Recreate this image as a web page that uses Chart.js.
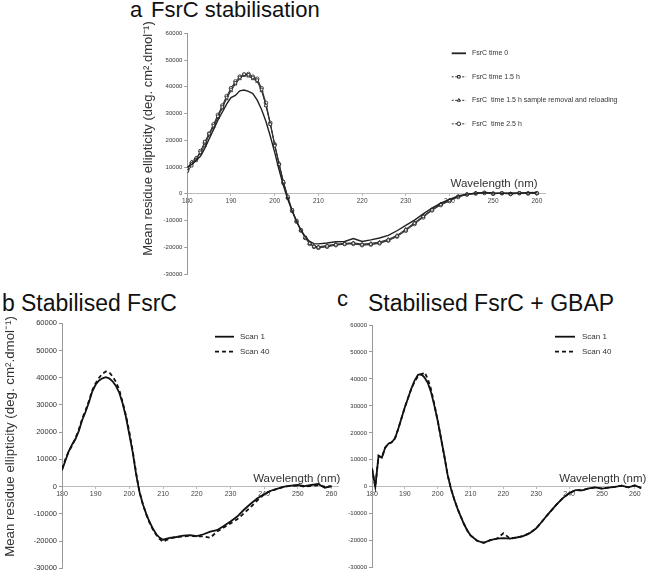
<!DOCTYPE html>
<html>
<head>
<meta charset="utf-8">
<script src="https://cdn.jsdelivr.net/npm/chart.js@4.4.1/dist/chart.umd.min.js"></script>
<style>
  body { margin: 0; background: #fff; width: 670px; height: 578px; position: relative; overflow: hidden; font-family: "Liberation Sans", Arial, sans-serif; }
  canvas { position: absolute; }
  .ttl { position: absolute; color: #111; white-space: nowrap; line-height: 1; }
</style>
</head>
<body>
<div class="ttl" style="left:130px;top:-1px;font-size:22px">a</div>
<div class="ttl" style="left:151px;top:-1px;font-size:22px">FsrC stabilisation</div>
<div class="ttl" style="left:2px;top:292px;font-size:23px">b</div>
<div class="ttl" style="left:21px;top:292px;font-size:23px">Stabilised FsrC</div>
<div class="ttl" style="left:337px;top:288px;font-size:22px">c</div>
<div class="ttl" style="left:368px;top:292px;font-size:23px">Stabilised FsrC + GBAP</div>

<canvas id="chartA" width="540" height="280" style="left:130px;top:0px"></canvas>
<canvas id="chartB" width="345" height="288" style="left:0px;top:290px"></canvas>
<canvas id="chartC" width="330" height="278" style="left:340px;top:300px"></canvas>

<script>
// wavelength (nm): 1 nm steps up to 210, 2 nm steps after
const wavelength = [180,181,182,183,184,185,186,187,188,189,190,191,192,193,194,195,196,197,198,199,200,
  201,202,203,204,205,206,207,208,209,210,212,214,216,218,220,222,224,226,228,230,232,234,236,238,240,
  242,244,246,248,250,252,254,256,258,260,262];

const yTicks = [-30000, -20000, -10000, 0, 10000, 20000, 30000, 40000, 50000, 60000];
const xTicks = [180, 190, 200, 210, 220, 230, 240, 250, 260];

// panel a
const fsrcTime0 = [10000,11000,12500,14000,17000,20500,24000,27500,30500,33500,36000,36800,38500,38800,38300,37500,
  35000,31500,27000,21500,15500,9000,3000,-2000,-6500,-10300,-13500,-16000,-17800,-18600,-18700,
  -18400,-17900,-17800,-16700,-17800,-17200,-16500,-15500,-13800,-11800,-9800,-7500,-5300,-3500,-2100,-800,-100,
  200,500,300,200,300,200,400,500];
const fsrcTime15 = [8500,10500,12500,15500,19500,22500,25500,29000,32500,36000,39000,41500,43500,44700,44500,43500,
  42500,39000,33000,26000,18000,11000,4500,-1000,-6000,-10000,-13500,-16300,-18500,-19700,-20000,
  -19500,-19000,-18700,-18500,-19000,-18800,-18300,-17300,-15800,-13500,-11000,-8500,-6000,-4000,-2500,-1000,-200,
  200,500,100,300,0,400,200,300];
const fsrcTime15Reload = [9500,12000,13500,15000,18000,22000,25000,28500,32000,35500,38500,41000,43000,44300,44000,43000,
  42000,38500,33000,26000,18500,11500,4500,-1500,-6500,-10500,-13800,-16500,-18500,-19500,-19800,
  -19300,-18800,-18500,-18300,-18800,-18500,-18000,-17000,-15500,-13200,-10800,-8300,-5800,-3800,-2300,-900,-100,
  300,400,200,200,100,300,300,200];
const fsrcTime25 = [9000,11500,13000,16000,19000,22500,26000,29500,33000,36500,39500,42000,43800,44500,44800,43800,
  43000,39500,34000,26500,18500,11000,4000,-1500,-6300,-10300,-13700,-16500,-18700,-19800,-20200,
  -19800,-19200,-18800,-18700,-19200,-19000,-18500,-17500,-16000,-13800,-11300,-8800,-6200,-4200,-2700,-1200,-300,
  100,300,0,200,-100,200,100,200];

// panel b
const stabScan1 = [6000,9500,13000,15500,17500,20500,24500,27500,31000,35000,37500,39000,39800,40200,39800,38700,
  37000,34500,30500,25500,19000,12500,4500,-2000,-6500,-10000,-13000,-15500,-17500,-18800,-19500,
  -18800,-18500,-18000,-17800,-18200,-17500,-16500,-16000,-14500,-12800,-11000,-8500,-6300,-4300,-2800,-1500,-700,
  0,400,600,200,600,1000,-400,200];
const stabScan40 = [6500,10000,13000,15000,17800,21000,25000,28000,31500,35500,38000,40000,41500,42300,42000,40500,
  38500,35500,31000,26000,20000,13000,5000,-2000,-6500,-10200,-13300,-15800,-17800,-19300,-20300,
  -19000,-18500,-18300,-18000,-18300,-18300,-18800,-16500,-15000,-13500,-12000,-9800,-7500,-5000,-2800,-1500,-800,
  0,300,400,0,300,500,0,100];

// panel c
const gbapScan1 = [6800,0,11500,10800,14500,16000,16500,18000,21500,25500,29500,33000,36500,39500,41500,41800,
  40500,38500,35000,30000,24500,18000,11500,4500,-500,-4500,-8000,-11000,-13800,-16200,-18000,
  -20000,-20800,-19800,-19200,-19000,-19200,-18800,-18300,-17200,-15400,-12500,-9600,-6800,-4300,-2400,-1200,-1300,
  -600,-200,-700,-300,0,400,-200,500,-500];
const gbapScan40 = [6800,0,11500,10800,14500,16000,16500,18000,21500,25500,29500,33000,36500,39000,41000,41500,
  42500,40000,36000,30500,24500,18000,11500,4500,-500,-4500,-8000,-11000,-13800,-16200,-18000,
  -20000,-20800,-19800,-19200,-17200,-19200,-18800,-18300,-17200,-15400,-12500,-9600,-6800,-4300,-2400,-1200,-1300,
  -600,-200,-700,-300,0,400,-200,500,-500];

const FONT = '"Liberation Sans", Arial, sans-serif';
const Y_TITLE = 'Mean residue ellipticity (deg. cm\u00B2.dmol\u207B\u00B9)';

function pts(values) {
  return values.map((v, i) => ({ x: wavelength[i], y: v }));
}

// legend, wavelength label and rotated y title, drawn on top of the chart
const panelText = {
  id: 'panelText',
  afterDraw(chart, args, opts) {
    const ctx = chart.ctx;
    const yScale = chart.scales.y;
    ctx.save();
    ctx.fillStyle = '#333';
    ctx.font = opts.xTitleSize + 'px ' + FONT;
    ctx.textAlign = 'right';
    ctx.textBaseline = 'alphabetic';
    ctx.fillText('Wavelength (nm)', chart.chartArea.right + opts.xTitleDx, yScale.getPixelForValue(0) - opts.xTitleDy);

    if (opts.yTitle) {
      ctx.save();
      ctx.translate(opts.yTitle.x, opts.yTitle.y);
      ctx.rotate(-Math.PI / 2);
      ctx.textAlign = 'center';
      ctx.textBaseline = 'middle';
      ctx.font = opts.yTitle.size + 'px ' + FONT;
      ctx.fillText(Y_TITLE, 0, 0);
      ctx.restore();
    }

    const lg = opts.legend;
    chart.data.datasets.forEach((ds, i) => {
      const ly = lg.y + i * lg.gap;
      ctx.strokeStyle = ds.borderColor;
      ctx.lineWidth = ds.legendWidth || ds.borderWidth;
      ctx.setLineDash(ds.legendDash || ds.borderDash || []);
      ctx.beginPath();
      ctx.moveTo(lg.x0, ly);
      ctx.lineTo(lg.x1, ly);
      ctx.stroke();
      ctx.setLineDash([]);
      if (ds.pointRadius > 0) {
        ctx.fillStyle = ds.pointBackgroundColor;
        ctx.strokeStyle = ds.pointBorderColor;
        ctx.lineWidth = 1;
        Chart.helpers.drawPoint(ctx, { pointStyle: ds.pointStyle, radius: ds.pointRadius, rotation: 0, borderWidth: 1 },
          (lg.x0 + lg.x1) / 2, ly);
      }
      ctx.fillStyle = '#333';
      ctx.font = lg.size + 'px ' + FONT;
      ctx.textAlign = 'left';
      ctx.textBaseline = 'middle';
      ctx.fillText(ds.label, lg.tx, ly);
    });
    ctx.restore();
  }
};

function makeChart(id, datasets, cfg) {
  return new Chart(document.getElementById(id), {
    type: 'line',
    data: { datasets: datasets },
    plugins: [panelText],
    options: {
      responsive: false,
      animation: false,
      layout: { padding: cfg.padding },
      plugins: {
        legend: { display: false },
        tooltip: { enabled: false },
        panelText: cfg.text
      },
      scales: {
        x: {
          type: 'linear',
          position: { y: 0 },
          min: 180,
          max: 262,
          afterBuildTicks: (s) => { s.ticks = xTicks.map(v => ({ value: v })); },
          ticks: { font: { family: FONT, size: cfg.xTickSize }, color: '#444', padding: 1, maxRotation: 0 },
          grid: { drawOnChartArea: false, tickLength: 2, color: '#bbb' },
          border: { color: '#bbb' }
        },
        y: {
          min: -30000,
          max: 60000,
          afterFit: (s) => { s.width = cfg.yWidth; },
          afterBuildTicks: (s) => { s.ticks = yTicks.map(v => ({ value: v })); },
          ticks: { font: { family: FONT, size: cfg.yTickSize }, color: '#333', padding: 2, callback: (v) => String(v) },
          grid: { drawOnChartArea: false, tickLength: 3, color: '#999' },
          border: { color: '#999' }
        }
      }
    }
  });
}

function markerSeries(label, values, style) {
  return {
    label: label, data: pts(values), borderColor: '#333', borderWidth: 1,
    pointStyle: style, pointRadius: 1.8, pointBackgroundColor: '#fff', pointBorderColor: '#222', pointBorderWidth: 0.8,
    legendDash: [2, 1.5], legendWidth: 1
  };
}

makeChart('chartA', [
  { label: 'FsrC time 0', data: pts(fsrcTime0), borderColor: '#222', borderWidth: 1.4, pointRadius: 0, legendWidth: 1.8 },
  markerSeries('FsrC time 1.5 h', fsrcTime15, 'rect'),
  markerSeries('FsrC  time 1.5 h sample removal and reloading', fsrcTime15Reload, 'triangle'),
  markerSeries('FsrC  time 2.5 h', fsrcTime25, 'circle')
], {
  padding: { left: 0, top: 33.3, right: 124.4, bottom: 5.9 },
  yWidth: 57.3, xTickSize: 6.5, yTickSize: 6,
  text: {
    xTitleSize: 11.5, xTitleDx: -8, xTitleDy: 7,
    yTitle: { x: 18, y: 138.5, size: 13 },
    legend: { x0: 321.7, x1: 336, tx: 342, y: 53.3, gap: 23.5, size: 7 }
  }
});

makeChart('chartB', [
  { label: 'Scan 1', data: pts(stabScan1), borderColor: '#111', borderWidth: 1.8, pointRadius: 0 },
  { label: 'Scan 40', data: pts(stabScan40), borderColor: '#111', borderWidth: 1.8, borderDash: [4, 3], pointRadius: 0 }
], {
  padding: { left: 0, top: 33.3, right: 6.7, bottom: 9.7 },
  yWidth: 62, xTickSize: 7, yTickSize: 7.5,
  text: {
    xTitleSize: 11.5, xTitleDx: 2, xTitleDy: 5,
    yTitle: { x: 10, y: 146.5, size: 13.3 },
    legend: { x0: 215, x1: 234, tx: 240, y: 46.7, gap: 15, size: 8 }
  }
});

makeChart('chartC', [
  { label: 'Scan 1', data: pts(gbapScan1), borderColor: '#111', borderWidth: 1.8, pointRadius: 0 },
  { label: 'Scan 40', data: pts(gbapScan40), borderColor: '#111', borderWidth: 1.8, borderDash: [4, 3], pointRadius: 0 }
], {
  padding: { left: 0, top: 25, right: 28.6, bottom: 10.3 },
  yWidth: 32, xTickSize: 7, yTickSize: 6,
  text: {
    xTitleSize: 11.5, xTitleDx: 5, xTitleDy: 5,
    yTitle: null,
    legend: { x0: 215, x1: 235, tx: 242, y: 36.7, gap: 15, size: 8 }
  }
});
</script>
</body>
</html>
